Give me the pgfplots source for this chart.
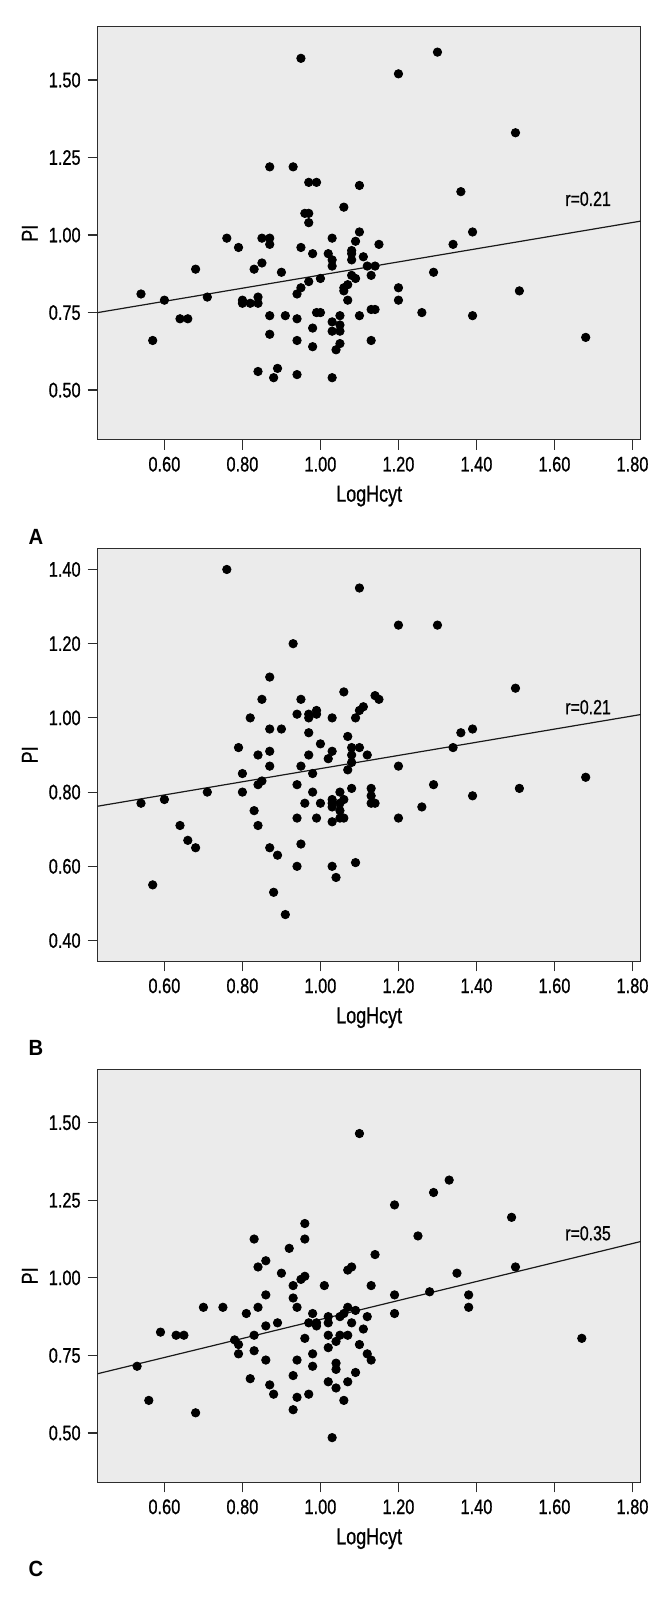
\documentclass[border=0pt]{standalone}
\usepackage{pgfplots}
\pgfplotsset{compat=1.18}
\usepackage{fontspec}
\setmainfont{Liberation Sans}[FakeStretch=0.78, FakeBold=0.8]
\newfontfamily\panelfont{Liberation Sans Bold}[FakeStretch=0.92]

\definecolor{plotbg}{RGB}{235,235,235}
\definecolor{frame}{RGB}{45,45,45}

\pgfplotsset{
  panel/.style={
    scale only axis,
    width=271.5pt, height=206.5pt,
    xmin=0.429, xmax=1.821,
    axis background/.style={fill=plotbg},
    axis line style={draw=frame, line width=0.6pt},
    tick align=outside, xtick pos=bottom, ytick pos=left,
    major tick length=5pt,
    tick style={draw=frame, line width=0.6pt},
    xtick={0.6,0.8,1.0,1.2,1.4,1.6,1.8},
    /pgf/number format/assume math mode=true,
    xticklabel style={/pgf/number format/fixed, /pgf/number format/fixed zerofill, /pgf/number format/precision=2},
    yticklabel style={/pgf/number format/fixed, /pgf/number format/fixed zerofill, /pgf/number format/precision=2},
    tick label style={font=\fontsize{10.5}{12}\selectfont},
    label style={font=\fontsize{11.5}{13}\selectfont},
    xlabel={LogHcyt}, ylabel={PI},
    xlabel style={at={(axis description cs:0.5,-0.150)}, anchor=base},
    ylabel style={at={(axis description cs:-0.125,0.5)}, anchor=center},
    clip=false,
  },
  dots/.style={only marks, mark=*, mark size=2.1pt, black},
  fit/.style={no marks, line width=0.6pt, black!90},
}
\tikzset{
  rlab/.style={font=\fontsize{10.2}{12}\selectfont, anchor=base},
  letter/.style={font=\fontsize{11}{13}\panelfont, anchor=base},
}

\begin{document}
\begin{tikzpicture}
\useasboundingbox (0,0) rectangle (336pt,-800.5pt);

% ---- A ----
\begin{axis}[panel, at={(48.85pt,-13.35pt)}, anchor=north west,
  ymin=0.34, ymax=1.672, ytick={0.5,0.75,1.0,1.25,1.5}]
\addplot[dots] coordinates {
(0.54,0.81) (0.57,0.66) (0.60,0.79) (0.64,0.73) (0.66,0.73) (0.68,0.89)
(0.71,0.80) (0.76,0.99) (0.79,0.96) (0.80,0.79) (0.80,0.78) (0.82,0.78)
(0.83,0.89) (0.84,0.80) (0.84,0.78) (0.84,0.56) (0.85,0.99) (0.85,0.91)
(0.87,1.22) (0.87,0.99) (0.87,0.97) (0.87,0.74) (0.87,0.68) (0.88,0.54)
(0.89,0.57) (0.90,0.88) (0.91,0.74) (0.93,1.22) (0.94,0.81) (0.94,0.73)
(0.94,0.66) (0.94,0.55) (0.95,1.57) (0.95,0.96) (0.95,0.83) (0.96,1.07)
(0.97,1.07) (0.97,1.04) (0.97,1.17) (0.97,0.85) (0.99,1.17) (0.98,0.94)
(0.98,0.70) (0.98,0.64) (0.99,0.75) (1.00,0.75) (1.00,0.86) (1.02,0.94)
(1.03,0.99) (1.03,0.92) (1.03,0.90) (1.03,0.72) (1.03,0.69) (1.03,0.54)
(1.04,0.63) (1.05,0.74) (1.05,0.71) (1.05,0.69) (1.05,0.65) (1.06,1.09)
(1.06,0.83) (1.06,0.82) (1.07,0.84) (1.07,0.79) (1.08,0.95) (1.08,0.94)
(1.08,0.92) (1.08,0.87) (1.09,0.98) (1.09,0.86) (1.10,1.16) (1.10,1.01)
(1.10,0.74) (1.11,0.93) (1.12,0.90) (1.13,0.87) (1.13,0.76) (1.13,0.66)
(1.14,0.90) (1.14,0.76) (1.15,0.97) (1.20,1.52) (1.20,0.83) (1.20,0.79)
(1.26,0.75) (1.29,0.88) (1.30,1.59) (1.34,0.97) (1.36,1.14) (1.39,1.01)
(1.39,0.74) (1.50,1.33) (1.51,0.82) (1.68,0.67)
};
\addplot[fit] coordinates {(0.429,0.750) (1.821,1.045)};
\node[rlab] at (axis cs:1.686,1.094) {r=0.21};
\end{axis}

% ---- B ----
\begin{axis}[panel, at={(48.85pt,-274.15pt)}, anchor=north west,
  ymin=0.344, ymax=1.457, ytick={0.4,0.6,0.8,1.0,1.2,1.4}]
\addplot[dots] coordinates {
(0.54,0.77) (0.57,0.55) (0.60,0.78) (0.64,0.71) (0.66,0.67) (0.68,0.65)
(0.71,0.80) (0.76,1.40) (0.79,0.92) (0.80,0.85) (0.80,0.80) (0.82,1.00)
(0.83,0.75) (0.84,0.90) (0.84,0.82) (0.84,0.71) (0.85,0.83) (0.85,1.05)
(0.87,1.11) (0.87,0.97) (0.87,0.91) (0.87,0.87) (0.87,0.65) (0.88,0.53)
(0.89,0.63) (0.90,0.97) (0.91,0.47) (0.93,1.20) (0.94,1.01) (0.94,0.82)
(0.94,0.73) (0.94,0.60) (0.95,1.05) (0.95,0.87) (0.95,0.66) (0.96,0.77)
(0.97,1.01) (0.97,1.00) (0.97,0.96) (0.97,0.90) (0.98,0.85) (0.98,0.80)
(0.99,1.02) (0.99,1.01) (0.99,0.73) (1.00,0.93) (1.00,0.77) (1.02,0.89)
(1.03,1.00) (1.03,0.91) (1.03,0.78) (1.03,0.77) (1.03,0.76) (1.03,0.72)
(1.03,0.60) (1.04,0.57) (1.05,0.80) (1.05,0.77) (1.05,0.75) (1.05,0.73)
(1.06,1.07) (1.06,0.78) (1.06,0.73) (1.07,0.95) (1.07,0.86) (1.08,0.92)
(1.08,0.90) (1.08,0.88) (1.08,0.81) (1.09,1.00) (1.09,0.61) (1.10,1.35)
(1.10,1.02) (1.10,0.92) (1.11,1.03) (1.12,0.90) (1.13,0.81) (1.13,0.79)
(1.13,0.77) (1.14,0.77) (1.14,1.06) (1.15,1.05) (1.20,1.25) (1.20,0.87)
(1.20,0.73) (1.26,0.76) (1.29,0.82) (1.30,1.25) (1.34,0.92) (1.36,0.96)
(1.39,0.97) (1.39,0.79) (1.50,1.08) (1.51,0.81) (1.68,0.84)
};
\addplot[fit] coordinates {(0.429,0.762) (1.821,1.009)};
\node[rlab] at (axis cs:1.686,1.010) {r=0.21};
\end{axis}

% ---- C ----
\begin{axis}[panel, at={(48.85pt,-534.65pt)}, anchor=north west,
  ymin=0.341, ymax=1.672, ytick={0.5,0.75,1.0,1.25,1.5}]
\addplot[dots] coordinates {
(0.53,0.715) (0.56,0.605) (0.59,0.825) (0.63,0.815) (0.65,0.815) (0.68,0.565)
(0.70,0.905) (0.75,0.905) (0.78,0.800) (0.79,0.785) (0.79,0.755) (0.81,0.885)
(0.82,0.675) (0.83,1.125) (0.83,0.815) (0.83,0.765) (0.84,1.035) (0.84,0.905)
(0.86,1.055) (0.86,0.945) (0.86,0.845) (0.86,0.735) (0.87,0.655) (0.88,0.625)
(0.89,0.855) (0.90,1.015) (0.92,1.095) (0.93,0.975) (0.93,0.935) (0.93,0.685)
(0.93,0.575) (0.94,0.905) (0.94,0.735) (0.94,0.615) (0.95,0.995) (0.96,1.175)
(0.96,1.125) (0.96,1.005) (0.96,0.805) (0.97,0.855) (0.97,0.625) (0.98,0.885)
(0.98,0.755) (0.98,0.715) (0.99,0.845) (0.99,0.855) (1.01,0.975) (1.02,0.875)
(1.02,0.855) (1.02,0.815) (1.02,0.775) (1.02,0.665) (1.03,0.485) (1.04,0.645)
(1.04,0.725) (1.04,0.705) (1.04,0.795) (1.05,0.875) (1.05,0.815) (1.06,0.885)
(1.06,0.605) (1.07,0.905) (1.07,0.815) (1.07,0.665) (1.07,1.025) (1.08,1.035)
(1.08,0.855) (1.09,0.895) (1.09,0.695) (1.10,1.465) (1.10,0.785) (1.11,0.835)
(1.12,0.875) (1.12,0.755) (1.13,0.975) (1.13,0.735) (1.14,1.075) (1.19,1.235)
(1.19,0.945) (1.19,0.885) (1.25,1.135) (1.28,0.955) (1.29,1.275) (1.33,1.315)
(1.35,1.015) (1.38,0.945) (1.38,0.905) (1.49,1.195) (1.50,1.035) (1.67,0.805)
};
\addplot[fit] coordinates {(0.429,0.691) (1.821,1.117)};
\node[rlab] at (axis cs:1.686,1.121) {r=0.35};
\end{axis}

% panel letters
\node[letter] at (18pt,-272.4pt) {A};
\node[letter] at (18pt,-527.9pt) {B};
\node[letter] at (18pt,-788.4pt) {C};
\end{tikzpicture}
\end{document}
